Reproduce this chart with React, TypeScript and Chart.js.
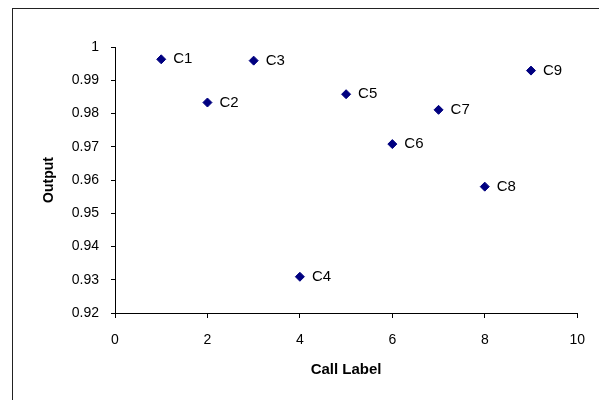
import React, { useEffect, useRef } from "react";
import { Chart, registerables } from "chart.js";

Chart.register(...registerables);

const callLabels = ["C1", "C2", "C3", "C4", "C5", "C6", "C7", "C8", "C9"];
const callNumbers = [1, 2, 3, 4, 5, 6, 7, 8, 9];
const outputValues = [0.9963, 0.9833, 0.9959, 0.9309, 0.9858, 0.9708, 0.9811, 0.958, 0.9929];
const xTitle = "Call Label";
const yTitle = "Output";

const FONT = "Arial, 'Liberation Sans', sans-serif";

const framePlugin = {
  id: "frame",
  beforeDraw(chart: any) {
    const ctx = chart.ctx;
    ctx.save();
    ctx.fillStyle = "#ffffff";
    ctx.fillRect(0, 0, chart.width, chart.height);
    ctx.strokeStyle = "#222222";
    ctx.lineWidth = 1;
    ctx.strokeRect(12.5, 8.5, 700, 500);
    ctx.restore();
  },
};

const pointLabelPlugin = {
  id: "pointLabels",
  afterDatasetsDraw(chart: any) {
    const ctx = chart.ctx;
    const meta = chart.getDatasetMeta(0);
    ctx.save();
    ctx.font = `15px ${FONT}`;
    ctx.fillStyle = "#000000";
    ctx.textAlign = "left";
    ctx.textBaseline = "middle";
    meta.data.forEach((el: any, i: number) => {
      ctx.fillText(callLabels[i], el.x + 12, el.y);
    });
    ctx.restore();
  },
};

export default function App() {
  const ref = useRef<HTMLCanvasElement | null>(null);
  useEffect(() => {
    if (!ref.current) return;
    const chart = new Chart(ref.current, {
      type: "scatter",
      data: {
        datasets: [
          {
            label: yTitle,
            data: callNumbers.map((x, i) => ({ x, y: outputValues[i] })),
            pointStyle: "rectRot",
            pointRadius: 4.5,
            pointHoverRadius: 4.5,
            backgroundColor: "#000080",
            borderColor: "#000080",
            borderWidth: 1,
          },
        ],
      },
      options: {
        animation: false,
        responsive: false,
        devicePixelRatio: 1,
        layout: { padding: { left: 0, right: 21, top: 47, bottom: 0 } },
        plugins: { legend: { display: false }, tooltip: { enabled: false } },
        scales: {
          x: {
            type: "linear",
            min: 0,
            max: 10,
            ticks: { stepSize: 2, color: "#000", font: { family: FONT, size: 14 }, padding: 14 },
            grid: { drawOnChartArea: false, drawTicks: true, tickLength: 5, color: "#000" },
            border: { color: "#000", width: 1 },
            title: { display: true, text: xTitle, color: "#000", font: { family: FONT, size: 15, weight: "bold" }, padding: { top: 0, bottom: 21 } },
            afterFit: (s: any) => { s.height = 87; },
          },
          y: {
            type: "linear",
            min: 0.92,
            max: 1,
            ticks: { stepSize: 0.01, color: "#000", font: { family: FONT, size: 14 }, padding: 12, callback: (v: any) => String(Math.round(Number(v) * 100) / 100) },
            grid: { drawOnChartArea: false, drawTicks: true, tickLength: 4, color: "#000" },
            border: { color: "#000", width: 1 },
            title: { display: true, text: yTitle, color: "#000", font: { family: FONT, size: 14, weight: "bold" }, padding: { top: 41, bottom: 0 } },
            afterFit: (s: any) => { s.width = 115; },
          },
        },
      },
      plugins: [framePlugin, pointLabelPlugin],
    } as any);
    return () => chart.destroy();
  }, []);
  return (
    <div style={{ position: "fixed", left: 0, top: 0, width: 599, height: 400, background: "#fff" }}>
      <canvas ref={ref} width={599} height={400} style={{ display: "block" }} />
    </div>
  );
}
